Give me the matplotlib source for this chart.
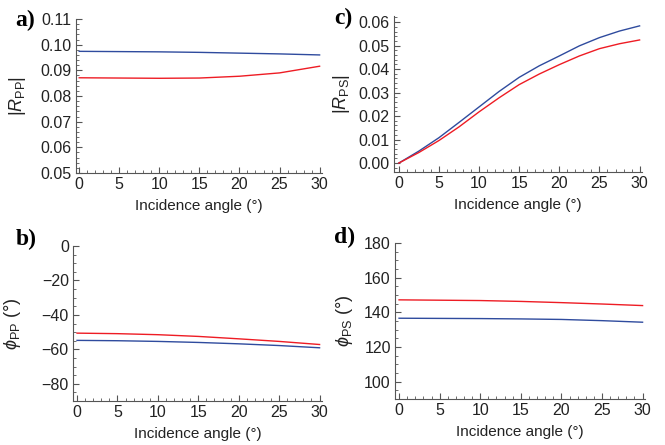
import numpy as np
import matplotlib
matplotlib.use('Agg')
import matplotlib.pyplot as plt
from matplotlib.ticker import MultipleLocator

plt.rcParams['font.family'] = ['Liberation Sans', 'DejaVu Sans']
plt.rcParams['mathtext.fontset'] = 'custom'
plt.rcParams['mathtext.rm'] = 'Liberation Sans'
plt.rcParams['mathtext.it'] = 'Liberation Sans:italic'

# incidence angles (deg)
ang = [0, 5, 10, 15, 20, 25, 30]
ang_c = [0, 2.5, 5, 7.5, 10, 12.5, 15, 17.5, 20, 22.5, 25, 27.5, 30]

# a) |R_PP|
rpp_blue = [0.0974, 0.0973, 0.0972, 0.0970, 0.0967, 0.0964, 0.0960]
rpp_red = [0.0871, 0.0870, 0.0869, 0.0870, 0.0877, 0.0890, 0.0916]
# c) |R_PS|
rps_blue = [0.0, 0.0051, 0.0108, 0.0173, 0.0239, 0.0305, 0.0365, 0.0414,
            0.0456, 0.0499, 0.0534, 0.0562, 0.0584]
rps_red = [0.0, 0.0045, 0.0096, 0.0154, 0.0218, 0.0278, 0.0334, 0.0379,
           0.0419, 0.0456, 0.0487, 0.0508, 0.0524]
# b) phi_PP
phpp_red = [-50.6, -50.9, -51.5, -52.5, -53.9, -55.4, -57.2]
phpp_blue = [-54.8, -55.0, -55.4, -56.0, -56.8, -57.8, -59.1]
# d) phi_PS
phps_red = [147.2, 147.0, 146.8, 146.3, 145.6, 144.8, 143.9]
phps_blue = [136.6, 136.5, 136.4, 136.2, 135.9, 135.2, 134.3]

BLUE = '#2f4b9e'
RED = '#ee1c24'
W, H = 665, 445

fig = plt.figure(figsize=(6.65, 4.45), dpi=100)

def box(l, t, r, b):
	return [l/W, 1-b/H, (r-l)/W, (b-t)/H]

def style(ax, ymaj, ymin):
	for s in ['top', 'right']:
		ax.spines[s].set_visible(False)
	for s in ['left', 'bottom']:
		ax.spines[s].set_color('#555555')
		ax.spines[s].set_linewidth(0.8)
	ax.xaxis.set_major_locator(MultipleLocator(5))
	ax.xaxis.set_minor_locator(MultipleLocator(1))
	ax.yaxis.set_major_locator(MultipleLocator(ymaj))
	ax.yaxis.set_minor_locator(MultipleLocator(ymin))
	ax.tick_params(which='both', direction='in', color='#555555', labelsize=11.5,
		labelcolor='#222222', pad=3)
	ax.tick_params(which='major', length=4, width=0.8)
	ax.tick_params(which='minor', length=2, width=0.6)
	ax.set_xlabel('Incidence angle (°)', fontsize=11, color='#222222', labelpad=5)

axa = fig.add_axes(box(76, 19, 322, 173))
axa.plot(ang, rpp_blue, color=BLUE, lw=1.0)
axa.plot(ang, rpp_red, color=RED, lw=1.0)
axa.set_xlim(-0.4, 30.3)
axa.set_ylim(0.05, 0.11)
style(axa, 0.01, 0.002)
axa.yaxis.set_major_formatter(plt.FormatStrFormatter('%.2f'))
axa.set_ylabel(r'$|R_{\mathrm{PP}}|$', fontsize=13, color='#222222')
axa.yaxis.set_label_coords(-0.195, 0.5)

axc = fig.add_axes(box(394, 16, 642, 172))
axc.plot(ang_c, rps_blue, color=BLUE, lw=1.0)
axc.plot(ang_c, rps_red, color=RED, lw=1.0)
axc.set_xlim(-0.6, 30.3)
axc.set_ylim(-0.0038, 0.0626)
style(axc, 0.01, 0.002)
axc.yaxis.set_major_formatter(plt.FormatStrFormatter('%.2f'))
axc.set_ylabel(r'$|R_{\mathrm{PS}}|$', fontsize=13, color='#222222')
axc.yaxis.set_label_coords(-0.17, 0.5)

axb = fig.add_axes(box(73, 246, 322, 401))
axb.plot(ang, phpp_red, color=RED, lw=1.0)
axb.plot(ang, phpp_blue, color=BLUE, lw=1.0)
axb.set_xlim(-0.5, 30.3)
axb.set_ylim(-90, 0)
style(axb, 20, 5)
axb.yaxis.set_major_formatter(plt.FuncFormatter(lambda v, p: '%d' % v if v >= 0 else '\u2212%d' % -v))
axb.set_ylabel(r'$\phi_{\mathrm{PP}}$ (°)', fontsize=13, color='#222222')
axb.yaxis.set_label_coords(-0.2, 0.5)

axd = fig.add_axes(box(395, 243, 645, 399))
axd.plot(ang, phps_red, color=RED, lw=1.0)
axd.plot(ang, phps_blue, color=BLUE, lw=1.0)
axd.set_xlim(-0.5, 30.3)
axd.set_ylim(90, 180)
style(axd, 20, 5)
axd.set_ylabel(r'$\phi_{\mathrm{PS}}$ (°)', fontsize=13, color='#222222')
axd.yaxis.set_label_coords(-0.16, 0.5)

for lab, x, y in [('a)', 15, 10), ('c)', 334, 8), ('b)', 16, 229), ('d)', 334, 227)]:
	fig.text(x/W, 1-y/H, lab, family='Liberation Serif', weight='bold',
		fontsize=17, va='top', ha='left')

plt.savefig('out.png', dpi=100)
